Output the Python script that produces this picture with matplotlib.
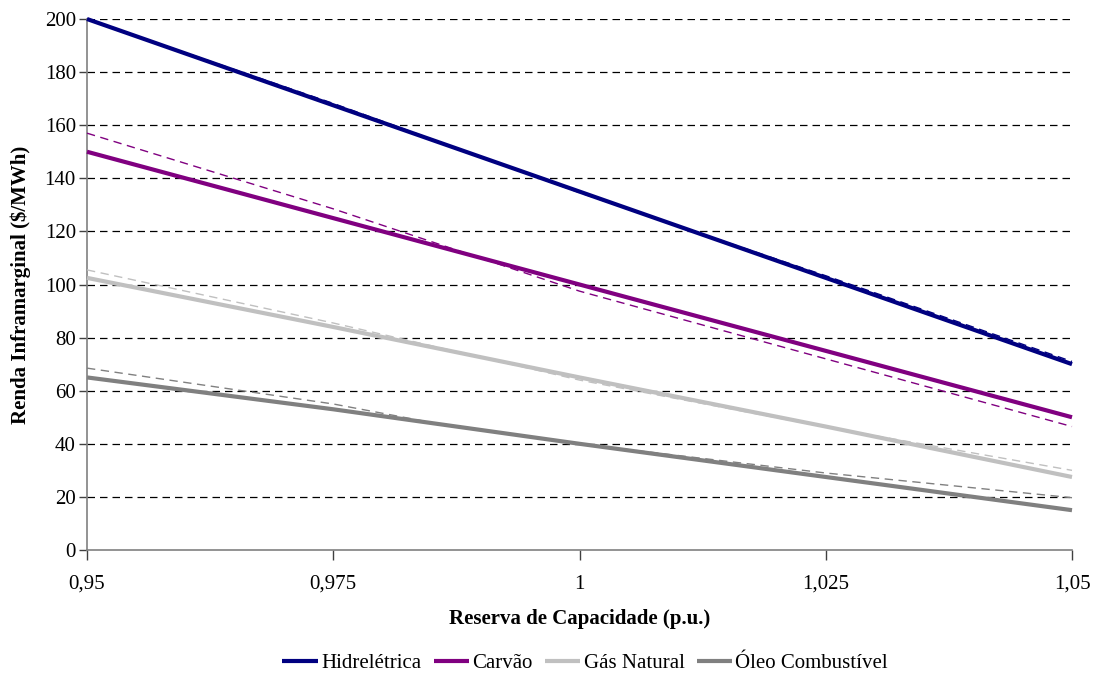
import matplotlib
matplotlib.use("Agg")
import matplotlib.pyplot as plt
from matplotlib.ticker import FixedLocator

plt.rcParams['font.family'] = ['Liberation Serif', 'DejaVu Serif']

# Reserve margin (p.u.) and inframarginal rent ($/MWh)
x_solid = [0.95, 0.975, 1.0, 1.025, 1.05]
hidro = [200, 167.5, 135, 102.5, 70]
carvao = [150, 125, 100, 75, 50]
gas = [102.5, 84, 65, 46.5, 27.5]
oleo = [65, 53, 40, 27.5, 15]

# Reference curves (dashed)
x_hidro_ref = [0.95, 0.975, 1.0, 1.025, 1.05]
hidro_ref = [200, 168.2, 134.6, 103.3, 71]
x_carvao_ref = [0.95, 0.975, 1.0, 1.025, 1.05]
carvao_ref = [157, 128.5, 97.5, 72, 46.5]
x_gas_ref = [0.95, 0.975, 1.0, 1.025, 1.05]
gas_ref = [105.5, 85.5, 64, 46.3, 30]
x_oleo_ref = [0.95, 0.975, 0.985, 1.0, 1.025, 1.05]
oleo_ref = [68.5, 55, 48, 40, 29, 19.7]

series_names = ['Hidrelétrica', 'Carvão', 'Gás Natural', 'Óleo Combustível']
colors = ['#000080', '#800080', '#C0C0C0', '#808080']

x_ticks = [0.95, 0.975, 1.0, 1.025, 1.05]
x_tick_labels = ['0,95', '0,975', '1', '1,025', '1,05']
y_ticks = list(range(0, 201, 20))

fig = plt.figure(figsize=(10.94, 6.77), dpi=100)
ax = fig.add_axes([87 / 1094, 127 / 677, 985 / 1094, 531 / 677])

# horizontal grid
for yv in y_ticks[1:]:
    ax.axhline(yv, color='black', lw=0.9, ls=(0, (6, 4)), zorder=1)

solids = [hidro, carvao, gas, oleo]
refs = [(x_hidro_ref, hidro_ref), (x_carvao_ref, carvao_ref),
        (x_gas_ref, gas_ref), (x_oleo_ref, oleo_ref)]

handles = []
for name, col, ys, (xr, yr) in zip(series_names, colors, solids, refs):
    h, = ax.plot(x_solid, ys, color=col, lw=3, solid_capstyle='butt',
                 label=name, zorder=3, clip_on=False)
    ax.plot(xr, yr, color=col, lw=1.0, ls=(0, (6, 4)), zorder=4, clip_on=False)
    handles.append(h)

ax.set_xlim(0.95, 1.05)
ax.set_ylim(0, 200)
ax.xaxis.set_major_locator(FixedLocator(x_ticks))
ax.set_xticklabels(x_tick_labels)
ax.set_yticks(y_ticks)

for s in ['top', 'right']:
    ax.spines[s].set_visible(False)
for s in ['left', 'bottom']:
    ax.spines[s].set_color('#808080')
    ax.spines[s].set_linewidth(1.2)

ax.tick_params(axis='x', direction='out', length=7, width=1, color='#404040',
               pad=11, labelsize=15)
ax.tick_params(axis='y', direction='out', length=6, width=1, color='#404040',
               pad=2, labelsize=15)

ax.set_xlabel('Reserva de Capacidade (p.u.)', fontsize=15, fontweight='bold',
              labelpad=11)
ax.set_ylabel('Renda Inframarginal ($/MWh)', fontsize=15, fontweight='bold',
              labelpad=10)

fig.legend(handles=handles, labels=series_names, loc='center',
           bbox_to_anchor=(0.535, 14 / 677), ncol=4, frameon=False,
           fontsize=15, handlelength=1.7, handletextpad=0.15,
           columnspacing=0.6)

fig.savefig('out.png', dpi=100)
